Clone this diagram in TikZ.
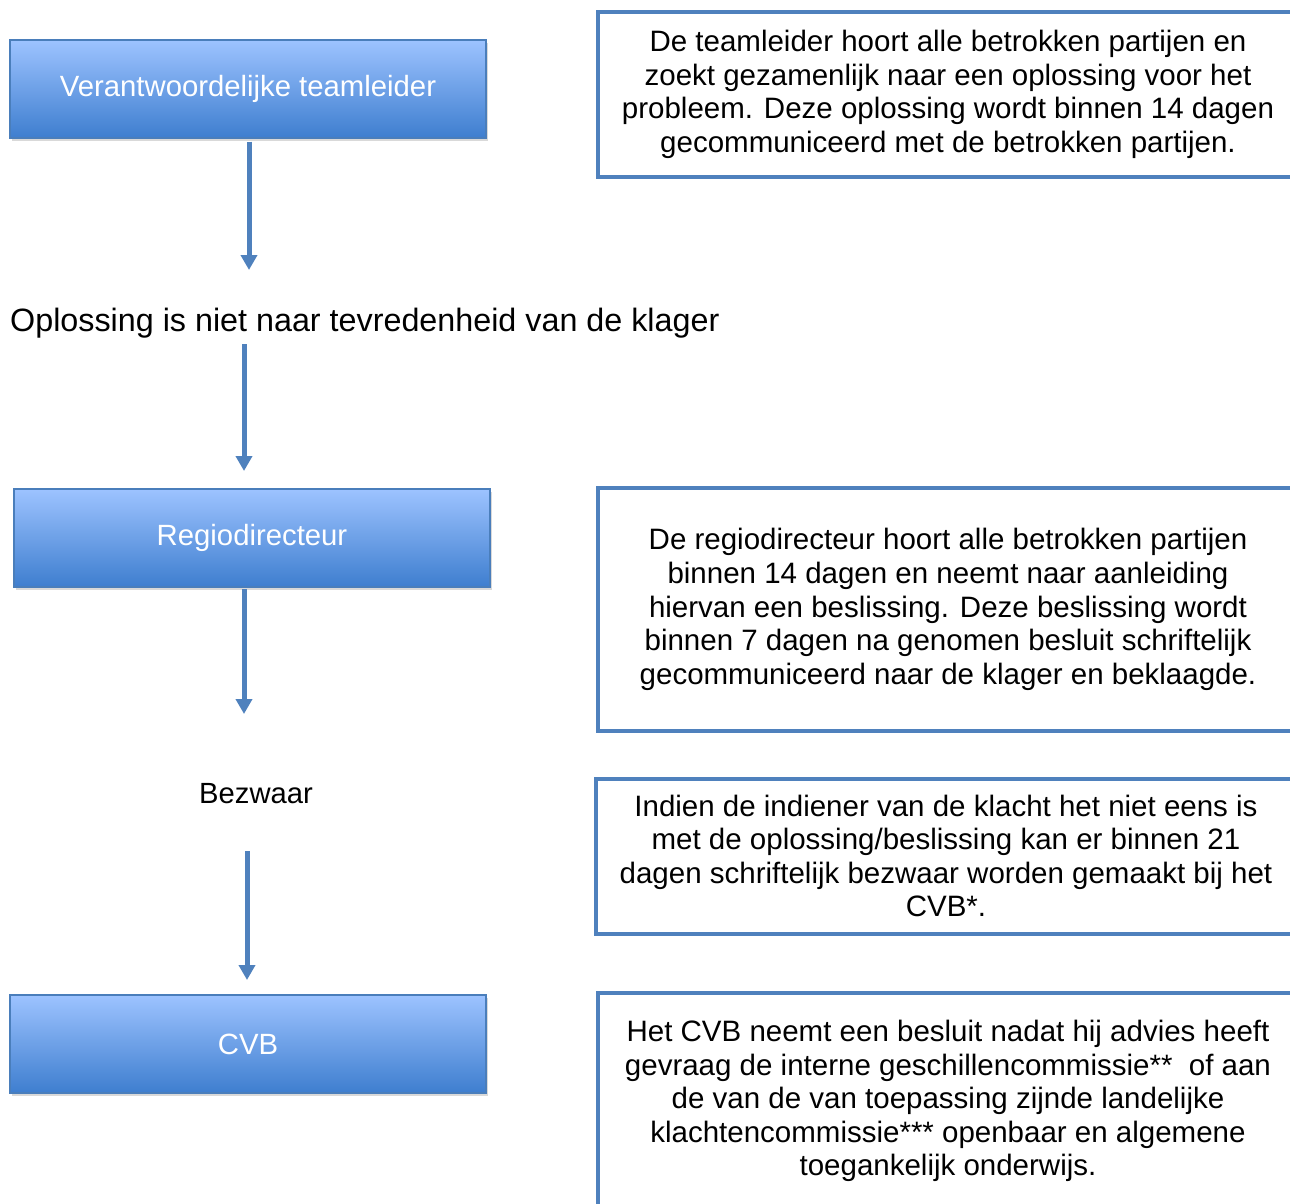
\documentclass[tikz,border=0pt]{standalone}
\usepackage{fontspec}
\setmainfont{Liberation Sans}
\usetikzlibrary{arrows.meta,shadows}
\definecolor{arrowblue}{HTML}{4F81BD}
\definecolor{boxtop}{HTML}{9DC3FF}
\definecolor{boxbot}{HTML}{3E7ECF}
\definecolor{boxedge}{HTML}{4A7EBB}
\tikzset{
  txt/.style={font=\fontsize{29.2}{33.5}\selectfont, text=black, inner sep=0pt},
  bluebox/.style={rectangle, draw=boxedge, line width=1.2pt, top color=boxtop, bottom color=boxbot,
    minimum width=476pt, minimum height=98pt, inner sep=0pt, text=white,
    font=\fontsize{29.3}{33.5}\selectfont,
    drop shadow={opacity=0.3, shadow xshift=1.5pt, shadow yshift=-3pt}},
  infobox/.style={rectangle, draw=arrowblue, line width=4pt, fill=white, minimum width=700pt,
    inner sep=0pt, align=center, font=\fontsize{29.5}{33.6}\selectfont, text=black},
  arr/.style={draw=arrowblue, line width=5pt, -{Triangle[width=16pt,length=15pt]}}
}
\begin{document}
\begin{tikzpicture}[x=1pt,y=-1pt]
\useasboundingbox (0,0) rectangle (1290,1203);
\clip (0,0) rectangle (1290,1203);
% left blue boxes
\node[bluebox] (b1) at (248,89) {Verantwoordelijke teamleider};
\node[bluebox] (b2) at (252,538) {Regiodirecteur};
\node[bluebox] (b3) at (248,1044) {CVB};
% plain texts
\node[txt, font=\fontsize{32.3}{36}\selectfont, anchor=base west] (opl) at (10,331) {Oplossing is niet naar tevredenheid van de klager};
\node[txt] (bez) at (256,794) {Bezwaar};
% right info boxes
\node[infobox, minimum height=165pt] (r1) at (948,94.5) {De teamleider hoort alle betrokken partijen en\\zoekt gezamenlijk naar een oplossing voor het\\probleem. Deze oplossing wordt binnen 14 dagen\\gecommuniceerd met de betrokken partijen.};
\node[infobox, minimum height=243pt] (r2) at (948,609.5) {De regiodirecteur hoort alle betrokken partijen\\binnen 14 dagen en neemt naar aanleiding\\hiervan een beslissing. Deze beslissing wordt\\binnen 7 dagen na genomen besluit schriftelijk\\gecommuniceerd naar de klager en beklaagde.};
\node[infobox, minimum height=155pt] (r3) at (946,856) {Indien de indiener van de klacht het niet eens is\\met de oplossing/beslissing kan er binnen 21\\dagen schriftelijk bezwaar worden gemaakt bij het\\CVB*.};
\node[infobox, minimum height=216pt] (r4) at (948,1101) {Het CVB neemt een besluit nadat hij advies heeft\\gevraag de interne geschillencommissie**~ of aan\\de van de van toepassing zijnde landelijke\\klachtencommissie*** openbaar en algemene\\toegankelijk onderwijs.};
% arrow end points
\coordinate (e1) at (249,270);
\coordinate (s2) at (244,344);
\coordinate (e2) at (244,471);
\coordinate (s3) at (244,589);
\coordinate (e3) at (244,714);
\coordinate (s4) at (247,851);
\coordinate (e4) at (247,980);
\draw[arr] (b1.south -| e1) ++(0,3) -- (e1);
\draw[arr] (s2) -- (e2);
\draw[arr] (s3) -- (e3);
\draw[arr] (s4) -- (e4);
\end{tikzpicture}
\end{document}
